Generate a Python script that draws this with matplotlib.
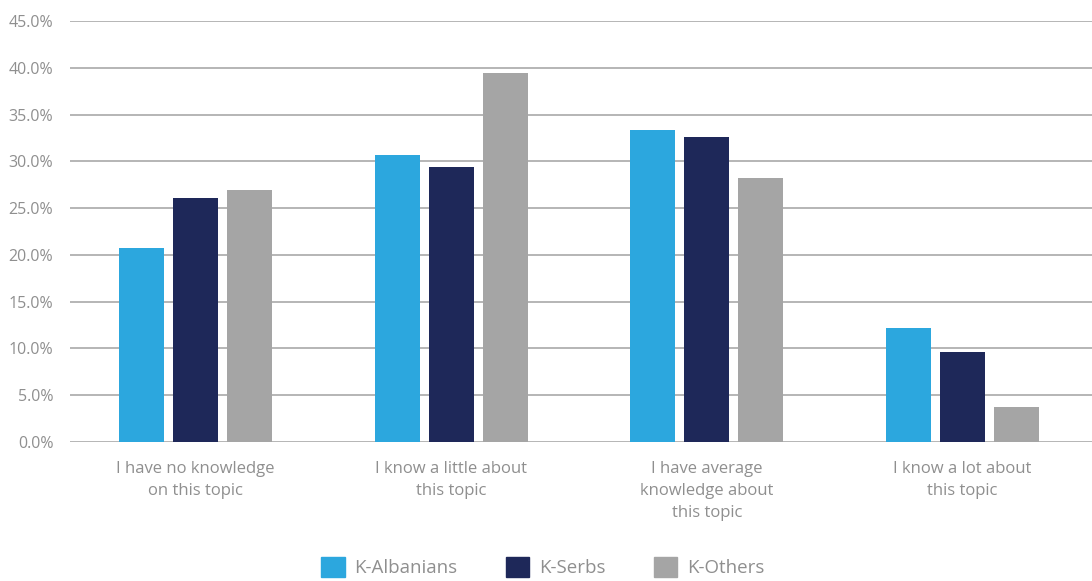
import matplotlib.pyplot as plt
import numpy as np
from matplotlib.patches import Patch

categories = ["I have no knowledge\non this topic",
              "I know a little about\nthis topic",
              "I have average\nknowledge about\nthis topic",
              "I know a lot about\nthis topic"]
series = ["K-Albanians", "K-Serbs", "K-Others"]
albanians = [20.7, 30.7, 33.4, 12.2]
serbs = [26.1, 29.4, 32.6, 9.6]
others = [26.9, 39.4, 28.2, 3.7]
yticks = [0, 5, 10, 15, 20, 25, 30, 35, 40, 45]

colors = ["#2CA7DE", "#1E2859", "#A5A5A5"]
text_col = "#8F8F8F"

plt.rcParams["font.family"] = ["Open Sans", "DejaVu Sans"]

fig = plt.figure(figsize = (10.92, 5.81), dpi = 100)
ax = fig.add_axes([70 / 1092, 1 - 442 / 581, 1 - 70 / 1092, 421 / 581])

x = np.arange(len(categories))
w = 0.176
step = 0.211
for i, (vals, c) in enumerate(zip([albanians, serbs, others], colors)):
    ax.bar(x + (i - 1) * step, vals, width = w, color = c, zorder = 3)

ax.set_xlim(-0.492, 3.508)
ax.set_ylim(0, 45)
ax.set_yticks(yticks)
ax.set_yticklabels([f"{v:.1f}%" for v in yticks], fontsize = 11.5)
ax.set_xticks(x)
ax.set_xticklabels(categories, linespacing = 1.5, fontsize = 12)
ax.grid(axis = "y", color = "#B5B5B5", linewidth = 1.4, zorder = 0)
for s in ax.spines.values():
    s.set_visible(False)
ax.tick_params(axis = "both", length = 0, colors = text_col)
ax.tick_params(axis = "x", pad = 14)
ax.tick_params(axis = "y", pad = 12)

handles = [Patch(color = c, label = s) for s, c in zip(series, colors)]
fig.legend(handles = handles, loc = "lower center", bbox_to_anchor = (0.497, -0.022),
           ncol = 3, frameon = False, fontsize = 13.5, labelcolor = text_col,
           handlelength = 1.25, handleheight = 1.25, handletextpad = 0.5, columnspacing = 2.6)

fig.savefig("out.png", dpi = 100)
